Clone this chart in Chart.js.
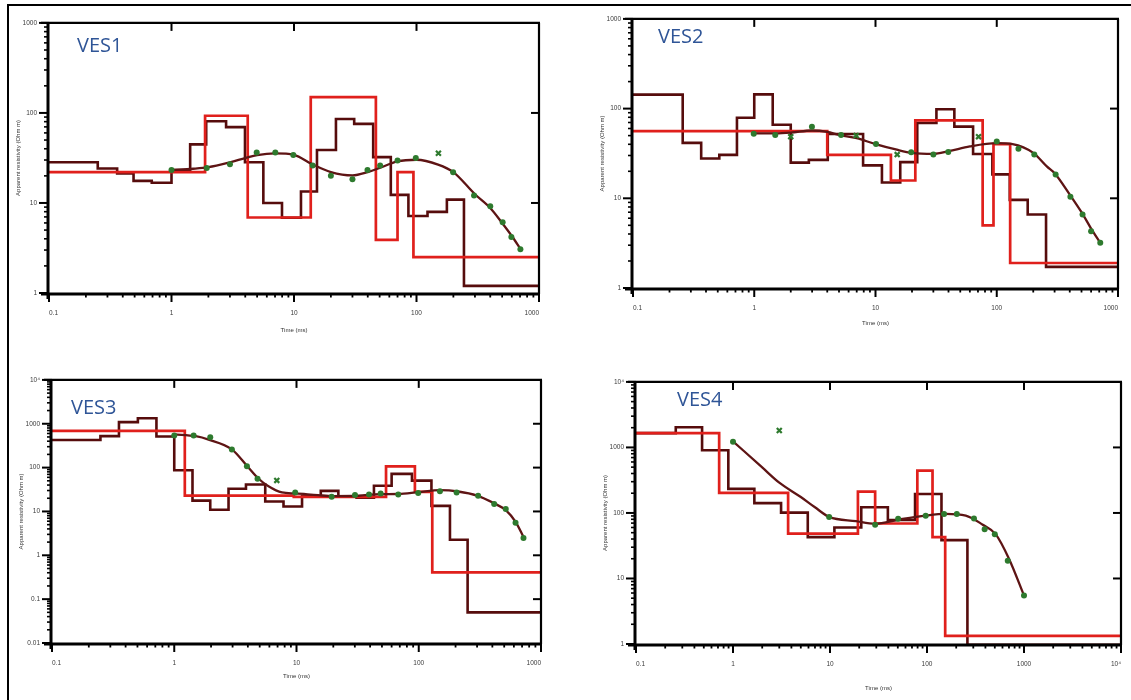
<!DOCTYPE html>
<html><head><meta charset="utf-8">
<script src="https://cdn.jsdelivr.net/npm/chart.js@4.4.0/dist/chart.umd.min.js"></script>
<style>
html,body{margin:0;padding:0;background:#fff;width:1131px;height:700px;overflow:hidden;position:relative;}
canvas.panel{position:absolute;}
.ves{position:absolute;font-family:"Open Sans",sans-serif;font-size:20px;line-height:20px;color:#2f5597;white-space:nowrap;}
.bl{position:absolute;background:#000;}
</style></head><body>
<div class="bl" style="left:7px;top:4px;width:1124px;height:2px"></div>
<div class="bl" style="left:7px;top:4px;width:2px;height:696px"></div>
<canvas id="c1" class="panel"></canvas>
<canvas id="c2" class="panel"></canvas>
<canvas id="c3" class="panel"></canvas>
<canvas id="c4" class="panel"></canvas>
<div class="ves" style="left:77px;top:35px">VES1</div>
<div class="ves" style="left:658px;top:26px">VES2</div>
<div class="ves" style="left:71px;top:397px">VES3</div>
<div class="ves" style="left:677px;top:389px">VES4</div>
<script>
// ---------- axis ticks ----------
const xMajorA = [0.1, 1, 10, 100, 1000];
const xLabelsA = ['0.1', '1', '10', '100', '1000'];
const xMajorB = [0.1, 1, 10, 100, 1000, 10000];
const xLabelsB = ['0.1', '1', '10', '100', '1000', '10\u2074'];
const yMajor12 = [1, 10, 100, 1000];
const yLabels12 = ['1', '10', '100', '1000'];
const yMajor3 = [0.01, 0.1, 1, 10, 100, 1000, 10000];
const yLabels3 = ['0.01', '0.1', '1', '10', '100', '1000', '10\u2074'];
const yMajor4 = [1, 10, 100, 1000, 10000];
const yLabels4 = ['1', '10', '100', '1000', '10\u2074'];

// ---------- VES1 ----------
const ves1RedStart = [0.01, 1.88, 4.19, 13.7, 46.6, 70, 94.4];
const ves1RedRho   = [22, 93, 6.9, 150, 3.9, 22, 2.5];
const ves1DarkStart = [0.01, 0.25, 0.36, 0.49, 0.69, 1.0, 1.42, 1.92, 2.79, 3.98, 5.62, 7.98, 11.4, 15.4, 22, 31, 44.3, 61.7, 85.9, 123, 177, 244];
const ves1DarkRho   = [28.3, 24.1, 21.3, 17.6, 16.8, 23.2, 44.7, 80.8, 69.6, 28.3, 10, 6.86, 13.4, 38.8, 85.6, 75.5, 32.3, 12.3, 7.16, 7.96, 10.9, 1.2];
const ves1CurveT   = [1, 1.5, 2, 3, 4, 5, 7, 10, 14, 20, 30, 40, 50, 70, 100, 150, 200, 300, 400, 500, 600, 710];
const ves1CurveRho = [23.2, 24, 25, 28.3, 31.5, 34, 35.6, 34.3, 27, 22, 20.2, 22, 24.5, 29, 30.2, 26.7, 22, 12.5, 8.8, 6, 4.3, 3.05];
const ves1ObsT   = [1.0, 1.94, 3.0, 4.96, 7.04, 9.87, 14.2, 20, 30, 39.8, 50.5, 70, 98.7, 199, 295, 400, 505, 595, 705];
const ves1ObsRho = [23.2, 24.4, 27, 36.3, 36.3, 34.2, 26, 20, 18.3, 23.2, 26, 29.7, 31.5, 22, 12.1, 9.2, 6.1, 4.2, 3.07];
const ves1OutT   = [151];
const ves1OutRho = [35.7];

// ---------- VES2 ----------
const ves2RedStart = [0.01, 4.0, 13.4, 21.3, 76.5, 94, 129];
const ves2RedRho   = [56, 30.5, 15.8, 74, 5.0, 40.2, 1.9];
const ves2DarkStart = [0.01, 0.257, 0.365, 0.515, 0.72, 1.0, 1.42, 2.0, 2.82, 4.04, 7.9, 11.3, 16, 22.1, 31.8, 44.7, 63.8, 92, 128, 180, 255];
const ves2DarkRho   = [143, 41.5, 27.8, 30.5, 79, 144, 66, 25, 26.8, 52, 23.3, 15, 25.3, 69, 98.5, 63, 31.2, 18.5, 9.6, 6.6, 1.72];
const ves2CurveT   = [1, 1.5, 2, 3, 4, 5, 7, 10, 15, 20, 30, 40, 60, 100, 135, 200, 260, 300, 400, 500, 600, 714];
const ves2CurveRho = [53, 53, 54, 57, 55, 51, 46.8, 40.2, 34.8, 32.1, 31.3, 33.5, 37.9, 41.2, 40.2, 32.1, 22.5, 19, 11, 7, 4.6, 3.2];
const ves2ObsT   = [0.99, 1.49, 2.99, 5.2, 10.1, 19.7, 30, 39.8, 100, 151, 204, 306, 405, 510, 600, 714];
const ves2ObsRho = [52.6, 50.8, 62.7, 50.8, 40.2, 32.6, 30.7, 32.9, 43, 35.7, 30.7, 18.4, 10.4, 6.6, 4.3, 3.2];
const ves2OutT   = [2.0, 6.93, 15.1, 70.8];
const ves2OutRho = [48.7, 50, 30.7, 48.7];

// ---------- VES3 ----------
const ves3RedStart = [0.01, 1.22, 9.5, 54, 93, 129];
const ves3RedRho   = [690, 23, 21.5, 107, 28, 0.41];
const ves3DarkStart = [0.01, 0.249, 0.353, 0.504, 0.715, 1.0, 1.41, 1.97, 2.78, 3.86, 5.55, 7.83, 11.1, 15.8, 22, 31, 43, 60, 88, 127, 180, 251];
const ves3DarkRho   = [426, 523, 1089, 1336, 512, 87, 17.7, 10.9, 33, 41.3, 16.8, 13, 22.4, 29.5, 21.7, 20.5, 38.5, 72, 50.5, 13.4, 2.27, 0.05];
const ves3CurveT   = [1, 1.5, 1.91, 2.96, 3.93, 4.9, 5.9, 7.6, 9.76, 15, 20, 32, 48, 68, 99, 149, 210, 300, 410, 520, 620, 720];
const ves3CurveRho = [575, 520, 435, 260, 110, 55.7, 37.5, 27.1, 25.7, 23.5, 22.4, 22.8, 24.9, 25, 27.5, 30.5, 28.5, 23, 15.5, 10.5, 5.8, 2.6];
const ves3ObsT   = [1.0, 1.44, 1.97, 2.96, 3.93, 4.8, 9.76, 19.4, 30.1, 39.2, 48.8, 68, 99, 149, 204, 306, 414, 515, 619, 719];
const ves3ObsRho = [540, 540, 490, 260, 107, 55.7, 27, 21.7, 23.6, 24.4, 25.7, 24.4, 26.3, 28.8, 27, 22.7, 14.8, 11.4, 5.5, 2.47];
const ves3OutT   = [6.9];
const ves3OutRho = [51];

// ---------- VES4 ----------
const ves4RedStart = [0.01, 0.72, 3.7, 19.4, 29.2, 79.5, 114, 154];
const ves4RedRho   = [1650, 202, 48.4, 211, 69, 444, 42.7, 1.33];
const ves4DarkStart = [0.01, 0.257, 0.48, 0.895, 1.66, 3.13, 5.9, 11.1, 21, 39.5, 75.3, 141, 261];
const ves4DarkRho   = [1650, 2030, 905, 233, 141, 101, 42.7, 60, 122, 78, 195, 38.5, 0.97];
const ves4CurveT   = [1, 2, 3, 5, 7, 9.8, 18.5, 29.2, 51.6, 97, 156, 251, 372, 510, 700, 1000];
const ves4CurveRho = [1240, 495, 290, 175, 122, 87, 75, 68.6, 79.4, 91.2, 96.6, 91, 66.8, 47.5, 20, 5.5];
const ves4ObsT   = [1, 9.8, 29.2, 50.4, 97, 150, 203, 305, 393, 500, 680, 1000];
const ves4ObsRho = [1217, 87, 66, 81.3, 91, 96.6, 96.6, 82, 56.4, 47.5, 18.7, 5.5];
const ves4OutT   = [3.0];
const ves4OutRho = [1811];

// ---------- styling / layout ----------
const RED = '#e0201c', DARK = '#560c0c', CURVE = '#5e1414', GREEN = '#2e7a2e';
const TICK_FONT = {family: '"Liberation Sans", Arial, sans-serif', size: 6.5};
const TITLE_FONT = {family: '"Liberation Sans", Arial, sans-serif', size: 6};

function isPow10(v) { const l = Math.log10(v); return Math.abs(l - Math.round(l)) < 1e-6; }
function withMinors(majors) {
  const out = [];
  for (let i = 0; i < majors.length - 1; i++) {
    for (let k = 1; k <= 9; k++) out.push(majors[i] * k);
  }
  out.push(majors[majors.length - 1]);
  return out;
}
function stepPts(starts, rho) {
  const p = starts.map((t, i) => ({x: t, y: rho[i]}));
  p.push({x: 1e6, y: rho[rho.length - 1]});
  return p;
}
function pts(t, r) { return t.map((v, i) => ({x: v, y: r[i]})); }
function labelFor(majors, labels) {
  return function (value) {
    const i = majors.findIndex(m => Math.abs(m - value) / m < 1e-6);
    return i >= 0 ? labels[i] : '';
  };
}

const frameTicks = {
  id: 'frameTicks',
  afterDraw(chart) {
    const {ctx, chartArea: a} = chart;
    const x = chart.scales.x, y = chart.scales.y;
    ctx.save();
    ctx.strokeStyle = '#000';
    const seg = (x1, y1, x2, y2, w) => { ctx.lineWidth = w; ctx.beginPath(); ctx.moveTo(x1, y1); ctx.lineTo(x2, y2); ctx.stroke(); };
    x.ticks.forEach(t => {
      const p = x.getPixelForValue(t.value);
      if (isPow10(t.value)) {
        seg(p, a.bottom, p, a.bottom + 9, 2);
        if (p > a.left + 2 && p < a.right - 2) seg(p, a.top, p, a.top + 8, 2);
      } else {
        seg(p, a.bottom, p, a.bottom + 4.5, 1.8);
      }
    });
    y.ticks.forEach(t => {
      const p = y.getPixelForValue(t.value);
      if (isPow10(t.value)) {
        seg(a.left - 10, p, a.left, p, 2);
        if (p > a.top + 2 && p < a.bottom - 2) seg(a.right - 8, p, a.right, p, 2);
      } else {
        seg(a.left - 5, p, a.left, p, 1.6);
      }
    });
    seg(a.left - 8, a.top, a.right + 1, a.top, 2.2);
    seg(a.right, a.top, a.right, a.bottom + 1, 2.2);
    seg(a.left - 1, a.top - 1, a.left - 1, a.bottom + 6, 3);
    seg(a.left - 8, a.bottom + 1, a.right + 1, a.bottom + 1, 3);
    ctx.restore();
  }
};

const panels = [
  {id: 'c1', L: 49, R: 540, T: 17, B: 293, xMin: 0.1, xMax: 1000, yMin: 1, yMax: 1000,
   xMaj: xMajorA, xLab: xLabelsA, yMaj: yMajor12, yLab: yLabels12, xTitlePad: 9.4,
   red: stepPts(ves1RedStart, ves1RedRho), dark: stepPts(ves1DarkStart, ves1DarkRho),
   curve: pts(ves1CurveT, ves1CurveRho), obs: pts(ves1ObsT, ves1ObsRho), out: pts(ves1OutT, ves1OutRho)},
  {id: 'c2', L: 633, R: 1119, T: 13, B: 288, xMin: 0.1, xMax: 1000, yMin: 1, yMax: 1000,
   xMaj: xMajorA, xLab: xLabelsA, yMaj: yMajor12, yLab: yLabels12, xTitlePad: 11.4,
   red: stepPts(ves2RedStart, ves2RedRho), dark: stepPts(ves2DarkStart, ves2DarkRho),
   curve: pts(ves2CurveT, ves2CurveRho), obs: pts(ves2ObsT, ves2ObsRho), out: pts(ves2OutT, ves2OutRho)},
  {id: 'c3', L: 52, R: 542, T: 374, B: 643, xMin: 0.1, xMax: 1000, yMin: 0.01, yMax: 10000,
   xMaj: xMajorA, xLab: xLabelsA, yMaj: yMajor3, yLab: yLabels3, xTitlePad: 12.7,
   red: stepPts(ves3RedStart, ves3RedRho), dark: stepPts(ves3DarkStart, ves3DarkRho),
   curve: pts(ves3CurveT, ves3CurveRho), obs: pts(ves3ObsT, ves3ObsRho), out: pts(ves3OutT, ves3OutRho)},
  {id: 'c4', L: 636, R: 1122, T: 376, B: 644, xMin: 0.1, xMax: 10000, yMin: 1, yMax: 10000,
   xMaj: xMajorB, xLab: xLabelsB, yMaj: yMajor4, yLab: yLabels4, xTitlePad: 2.4,
   red: stepPts(ves4RedStart, ves4RedRho), dark: stepPts(ves4DarkStart, ves4DarkRho),
   curve: pts(ves4CurveT, ves4CurveRho), obs: pts(ves4ObsT, ves4ObsRho), out: pts(ves4OutT, ves4OutRho)}
];

panels.forEach(p => {
  const cv = document.getElementById(p.id);
  const W = p.R - p.L + 60, H = p.B - p.T + 60;
  cv.width = W; cv.height = H;
  cv.style.left = (p.L - 45) + 'px'; cv.style.top = (p.T - 10) + 'px';
  cv.style.width = W + 'px'; cv.style.height = H + 'px';
  const xTicks = withMinors(p.xMaj), yTicks = withMinors(p.yMaj);
  new Chart(cv, {
    type: 'line',
    data: {
      datasets: [
        {data: p.out, showLine: false, pointStyle: 'crossRot', pointRadius: 3.5, pointBorderWidth: 2.2,
         pointBorderColor: GREEN, pointBackgroundColor: GREEN, borderColor: GREEN},
        {data: p.obs, showLine: false, pointStyle: 'circle', pointRadius: 3, pointBorderWidth: 0,
         pointBackgroundColor: GREEN, borderColor: GREEN},
        {data: p.curve, borderColor: CURVE, borderWidth: 2.3, pointRadius: 0, cubicInterpolationMode: 'monotone', fill: false},
        {data: p.red, borderColor: RED, borderWidth: 2.7, pointRadius: 0, stepped: true, fill: false},
        {data: p.dark, borderColor: DARK, borderWidth: 2.6, pointRadius: 0, stepped: true, fill: false}
      ]
    },
    options: {
      responsive: false, animation: false, devicePixelRatio: 1,
      events: [],
      layout: {padding: {left: 0, top: 10, right: 15, bottom: 0}},
      plugins: {legend: {display: false}, tooltip: {enabled: false}},
      scales: {
        x: {
          type: 'logarithmic', position: 'bottom', min: p.xMin, max: p.xMax,
          afterBuildTicks: s => { s.ticks = xTicks.map(v => ({value: v})); },
          afterFit: s => { s.height = 50; },
          grid: {display: false, drawTicks: false}, border: {display: false},
          ticks: {autoSkip: false, maxRotation: 0, minRotation: 0, align: 'inner', padding: 16,
                  font: TICK_FONT, color: '#3a3a3a', callback: labelFor(p.xMaj, p.xLab)},
          title: {display: true, text: 'Time (ms)', font: TITLE_FONT, color: '#333',
                  padding: {top: 0, bottom: p.xTitlePad}}
        },
        y: {
          type: 'logarithmic', position: 'left', min: p.yMin, max: p.yMax,
          afterBuildTicks: s => { s.ticks = yTicks.map(v => ({value: v})); },
          afterFit: s => { s.width = 45; },
          grid: {display: false, drawTicks: false}, border: {display: false},
          ticks: {autoSkip: false, padding: 12, font: TICK_FONT, color: '#3a3a3a',
                  callback: labelFor(p.yMaj, p.yLab)},
          title: {display: true, text: 'Apparent resistivity (Ohm m)', font: TITLE_FONT, color: '#333',
                  padding: {top: 10.4, bottom: 0}}
        }
      }
    },
    plugins: [frameTicks]
  });
});
</script>
</body></html>
